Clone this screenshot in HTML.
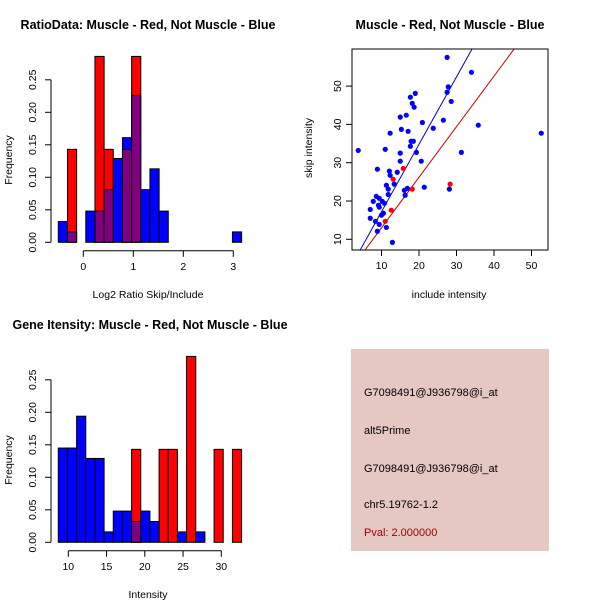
<!DOCTYPE html>
<html><head><meta charset="utf-8"><style>
body{margin:0;background:#fff}
svg{display:block;font-family:"Liberation Sans",sans-serif}
</style></head><body>
<svg id="s" width="600" height="600" xmlns="http://www.w3.org/2000/svg">
<rect width="600" height="600" fill="#fff"/>
<text x="148" y="29" text-anchor="middle" font-size="12.5" font-weight="bold">RatioData: Muscle - Red, Not Muscle - Blue</text>
<text x="450" y="29" text-anchor="middle" font-size="12.5" font-weight="bold">Muscle - Red, Not Muscle - Blue</text>
<text x="150" y="329" text-anchor="middle" font-size="12.5" font-weight="bold">Gene Itensity: Muscle - Red, Not Muscle - Blue</text>
<text x="148" y="298" text-anchor="middle" font-size="10.5">Log2 Ratio Skip/Include</text>
<text x="148" y="598" text-anchor="middle" font-size="10.5">Intensity</text>
<text transform="translate(12,160) rotate(-90)" text-anchor="middle" font-size="10.5">Frequency</text>
<text transform="translate(12,460) rotate(-90)" text-anchor="middle" font-size="10.5">Frequency</text>
<text x="449" y="298" text-anchor="middle" font-size="10.5">include intensity</text>
<text transform="translate(312,148) rotate(-90)" text-anchor="middle" font-size="10.5">skip intensity</text>
<g>
<rect x="351" y="349" width="198" height="202" fill="#E5C8C2"/>
<text x="364" y="396" font-size="11">G7098491@J936798@i_at</text>
<text x="364" y="434" font-size="11">alt5Prime</text>
<text x="364" y="472" font-size="11">G7098491@J936798@i_at</text>
<text x="364" y="508" font-size="11">chr5.19762-1.2</text>
<text x="364" y="536" font-size="11" fill="#A00000">Pval: 2.000000</text>
</g>
</svg>
<script>
// ratio histogram
const ratioBlue=[0.032,0.016,0,0.048,0.048,0.081,0.129,0.161,0.226,0.081,0.113,0.048,0,0,0,0,0,0,0,0.016];
const ratioRed=[0,0.143,0,0,0.286,0.143,0,0.143,0.286,0,0,0,0,0,0,0,0,0,0,0];
const ratioXTicks=[0,1,2,3];
// intensity histogram
const intBlue=[0.145,0.145,0.194,0.129,0.129,0.016,0.048,0.048,0.032,0.048,0.032,0,0,0.016,0,0.016,0,0,0,0];
const intRed=[0,0,0,0,0,0,0,0,0.143,0,0,0.143,0.143,0,0.286,0,0,0.143,0,0.143];
const intXTicks=[10,15,20,25,30];
const freqTicks=["0.00","0.05","0.10","0.15","0.20","0.25"];
// scatter
const blueX=[27.5,34,27.8,27.5,19,17.7,28.6,18.2,18.7,16.6,15,20.9,26.5,35.8,15.3,23.8,17.1,12.3,52.6,17.9,18.5,17.7,3.8,11,19.3,15,31.3,15,20.6,8.9,12.1,14.2,12.3,13.4,11.3,11.8,21.4,16.9,16.1,28.1,11.8,16.3,8.6,9.4,7.8,10.2,10.8,9.2,9.4,7,10.5,10,7,8.4,9.4,11.3,8.9,12.9];
const blueY=[57.5,53.6,49.8,48.4,48.1,47.1,46,45.5,44.5,42.4,41.9,40.5,41.1,39.8,38.7,39,38.2,37.7,37.7,35.6,35.6,34.3,33.2,33.5,32.7,32.5,32.7,30.4,30.4,28.3,27.8,27.5,26.7,24.4,24.1,23.1,23.6,23.3,22.8,23.1,21.7,21.5,21.2,20.7,19.9,19.9,19.4,18.9,18.4,17.8,16.8,16.3,15.5,14.7,13.9,13.1,12.1,9.2];
const redX=[15.8,13.1,18.2,28.3,12.6,11];
const redY=[28.5,25.7,23.1,24.4,17.6,14.7];
const scatterXTicks=[10,20,30,40,50];
const scatterYTicks=[10,20,30,40,50];
const blueLine=[-0.4,1.76];
const redLine=[-0.2,1.32];

const S=document.getElementById('s');
const NS='http://www.w3.org/2000/svg';
function mk(tag,at,name){const e=document.createElementNS(NS,tag);for(const k in at)e.setAttribute(k,at[k]);


S.appendChild(e);return e;}
function txt(x,y,t,name,rot){const e=mk('text',{x:x,y:y,'font-size':10.5,'text-anchor':'middle'},name);
if(rot)e.setAttribute('transform','rotate(-90 '+x+' '+y+')');e.textContent=t;return e;}

function hist(blue,red,x0,bw,xs,xTicks,y0,pre){
  const yS=v=>y0-v*650;
  for(let i=0;i<blue.length;i++){
    const xl=xs(x0+i*bw),w=xs(x0+(i+1)*bw)-xl,b=blue[i],r=red[i];
    const hi=Math.max(b,r),lo=Math.min(b,r);
    if(hi>0){mk('rect',{x:xl,y:yS(hi),width:w,height:yS(0)-yS(hi),fill:r>b?'#FF0000':'#0000FF',stroke:'#000','stroke-width':1},pre+'-bar-'+i);}
    if(lo>0){mk('rect',{x:xl,y:yS(lo),width:w,height:yS(0)-yS(lo),fill:'#800080',stroke:'#000','stroke-width':1},pre+'-overlap-'+i);}
  }
  mk('line',{x1:51,x2:51,y1:yS(0),y2:yS(0.25),stroke:'#000'},pre+'-y-axis');
  freqTicks.forEach((t,i)=>{const y=yS(i*0.05);
    mk('line',{x1:45,x2:51,y1:y,y2:y,stroke:'#000'},pre+'-y-tick');
    txt(36,y,t,pre+'-y-tick-label',true);});
  const ya=y0+8.5;
  mk('line',{x1:xs(xTicks[0]),x2:xs(xTicks[xTicks.length-1]),y1:ya,y2:ya,stroke:'#000'},pre+'-x-axis');
  xTicks.forEach(t=>{const x=xs(t);mk('line',{x1:x,x2:x,y1:ya,y2:ya+6,stroke:'#000'},pre+'-x-tick');
    txt(x,ya+19,t,pre+'-x-tick-label');});
}
hist(ratioBlue,ratioRed,-0.5,0.1833,v=>83.3+v*50,ratioXTicks,242.3,'ratio');
hist(intBlue,intRed,8.69,1.198,v=>68.3+(v-10)*7.65,intXTicks,542.3,'intensity');

// scatter
const L=352,R=548,T=49,B=250;
const sx=v=>344+v*3.75, sy=v=>239.3-(v-10)*3.83;
const cp=mk('clipPath',{id:'cp'},'scatter-clip');
const cr=document.createElementNS(NS,'rect');cr.setAttribute('x',L);cr.setAttribute('y',T);cr.setAttribute('width',R-L);cr.setAttribute('height',B-T);cp.appendChild(cr);
function line(p,c,n){const xa=0,xb=60;mk('line',{x1:sx(xa),y1:sy(p[0]+p[1]*xa),x2:sx(xb),y2:sy(p[0]+p[1]*xb),stroke:c,'clip-path':'url(#cp)'},n);}
line(blueLine,'#0000CC','blue-fit-line');
line(redLine,'#CC0000','red-fit-line');
blueX.forEach((x,i)=>mk('circle',{cx:sx(x),cy:sy(blueY[i]),r:2.6,fill:'#0000FF'},'blue-point'));
redX.forEach((x,i)=>mk('circle',{cx:sx(x),cy:sy(redY[i]),r:2.6,fill:'#FF0000'},'red-point'));
mk('rect',{x:L,y:T,width:R-L,height:B-T,fill:'none',stroke:'#000'},'scatter-box');
scatterXTicks.forEach(t=>{const x=sx(t);mk('line',{x1:x,x2:x,y1:B,y2:B+6,stroke:'#000'},'scatter-x-tick');txt(x,B+19,t,'scatter-x-tick-label');});
scatterYTicks.forEach(t=>{const y=sy(t);mk('line',{x1:L-6,x2:L,y1:y,y2:y,stroke:'#000'},'scatter-y-tick');txt(L-11,y,t,'scatter-y-tick-label',true);});
</script>
</body></html>
